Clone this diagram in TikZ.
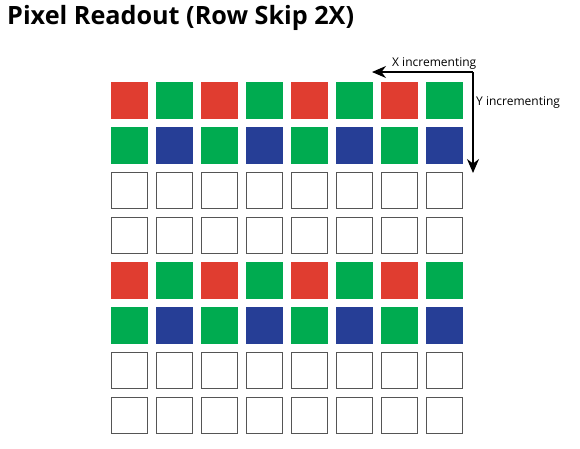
\documentclass[tikz,border=0pt]{standalone}
\usepackage{fontspec}
\setmainfont{Open Sans}
\usetikzlibrary{arrows.meta}
\definecolor{pixred}{RGB}{224,61,48}
\definecolor{pixgreen}{RGB}{0,171,80}
\definecolor{pixblue}{RGB}{38,62,150}
\definecolor{pixline}{RGB}{85,85,85}
\begin{document}
\begin{tikzpicture}[x=1pt,y=-1pt,
  pix/.style={minimum size=37pt, inner sep=0pt, outer sep=0pt, anchor=north west},
  skipped/.style={pix, draw=pixline, line width=1.2pt, minimum size=35.8pt, outer sep=0.6pt},
  dirarrow/.style={line width=1.4pt, -{Stealth[length=14pt,width=12pt]}},
  dirlabel/.style={font=\fontsize{12}{13}\selectfont, inner sep=0pt}]
\useasboundingbox (0,0) rectangle (580,448);
%page frame of 580 by 448, y grows downward
\node[anchor=base west, inner sep=0pt, font=\bfseries\fontsize{25.2}{26}\selectfont] (title) at (7,24) {Pixel Readout (Row Skip 2X)};
%title at the top left
\foreach \r in {1,5} {\foreach \c in {1,...,8} {\ifodd\c \def\pc{pixred}\else \def\pc{pixgreen}\fi \node[pix, fill=\pc] (p-\r-\c) at ({111+45*(\c-1)},{82+45*(\r-1)}) {};}}
%read rows of red and green pixels
\foreach \r in {2,6} {\foreach \c in {1,...,8} {\ifodd\c \def\pc{pixgreen}\else \def\pc{pixblue}\fi \node[pix, fill=\pc] (p-\r-\c) at ({111+45*(\c-1)},{82+45*(\r-1)}) {};}}
%read rows of green and blue pixels
\foreach \r in {3,4,7,8} {\foreach \c in {1,...,8} {\node[skipped] (p-\r-\c) at ({111+45*(\c-1)},{82+45*(\r-1)}) {};}}
%skipped rows, outlined only
\coordinate (corner) at (473,72);
\coordinate (xend) at (372,72);
\coordinate (yend) at (473,173);
%corner of the two direction arrows and their tips
\draw[dirarrow] (corner) -- (xend);
\draw[dirarrow] (corner) -- (yend);
%X arrow to the left, Y arrow downward
\node[dirlabel, anchor=base west] (xlabel) at (392,66) {X incrementing};
\node[dirlabel, anchor=west] (ylabel) at (476,103) {Y incrementing};
%labels of the arrows
\end{tikzpicture}
\end{document}
